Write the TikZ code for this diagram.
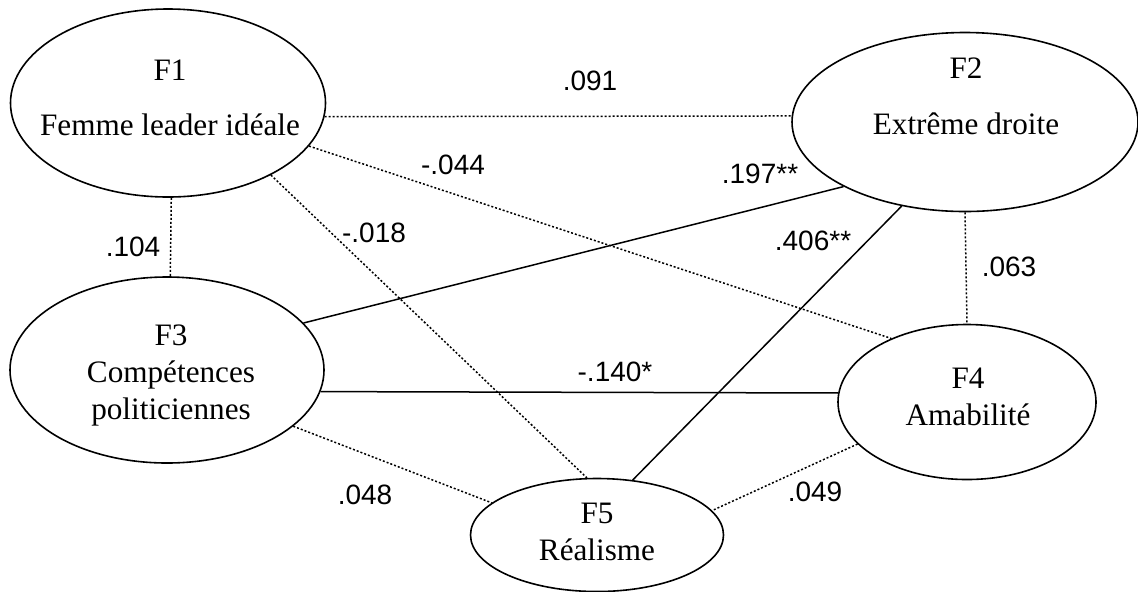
\documentclass[tikz,border=0pt]{standalone}
\usepackage{fontspec}
\setmainfont{Liberation Serif}
\newfontfamily\coeffont{Liberation Sans}
\usetikzlibrary{shapes.geometric}

\begin{document}
\begin{tikzpicture}[x=0.5pt,y=-0.5pt,
                fac/.style={draw,ellipse,line width=0.8pt,inner sep=0pt},
                ftxt/.style={align=center,inner sep=0pt,font=\fontsize{15.6}{18.5}\selectfont},
                sig/.style={line width=0.75pt},
                nonsig/.style={line width=0.75pt,dash pattern=on 1pt off 1pt},
                coef/.style={inner sep=0pt,font=\coeffont\fontsize{14}{16}\selectfont}]
                \useasboundingbox (0,0) rectangle (1138,591);
                % facteurs
                \node[fac,minimum width=157.5pt,minimum height=94pt] (F1) at (168,103) {};
                \node[fac,minimum width=173pt,minimum height=89.5pt] (F2) at (965,122) {};
                \node[fac,minimum width=157pt,minimum height=93pt] (F3) at (167,370) {};
                \node[fac,minimum width=129pt,minimum height=77.5pt] (F4) at (967,402) {};
                \node[fac,minimum width=126.5pt,minimum height=56.5pt] (F5) at (597,535) {};
                \node[ftxt] (t1) at (170,97.5) {F1\\[9pt]Femme leader idéale};
                \node[ftxt] (t2) at (966,96.5) {F2\\[9.5pt]Extrême droite};
                \node[ftxt] (t3) at (171,375.5) {F3\\Compétences\\politiciennes};
                \node[ftxt] (t4) at (968,396.5) {F4\\Amabilité};
                \node[ftxt] (t5) at (597,532) {F5\\Réalisme};
                % liens
                \draw[nonsig] (F1.-5) -- (F2.178);
                \draw[nonsig] (F1.-88) -- (F3.88);
                \draw[nonsig] (F1.-17.5) -- (F4.140);
                \draw[nonsig] (F1.-35) -- (F5.100);
                \draw[sig] (F3.19) -- (F2.208);
                \draw[nonsig] (F2.south) -- (F4.north);
                \draw[sig] (F2.233) -- (F5.57);
                \draw[sig] (F3.-8.7) -- (F4.176.5);
                \draw[nonsig] (F3.-24) -- (F5.163.5);
                \draw[nonsig] (F4.201) -- (F5.12);
                % coefficients
                \node[coef] (c12) at (590,81) {.091};
                \node[coef] (c14) at (453,165) {-.044};
                \node[coef] (c23) at (760,174) {.197**};
                \node[coef] (c15) at (374,233) {-.018};
                \node[coef] (c25) at (813,241) {.406**};
                \node[coef] (c13) at (133,247) {.104};
                \node[coef] (c24) at (1009,267) {.063};
                \node[coef] (c34) at (615,372) {-.140*};
                \node[coef] (c35) at (365,495) {.048};
                \node[coef] (c45) at (815,492) {.049};
            \end{tikzpicture}
\end{document}
